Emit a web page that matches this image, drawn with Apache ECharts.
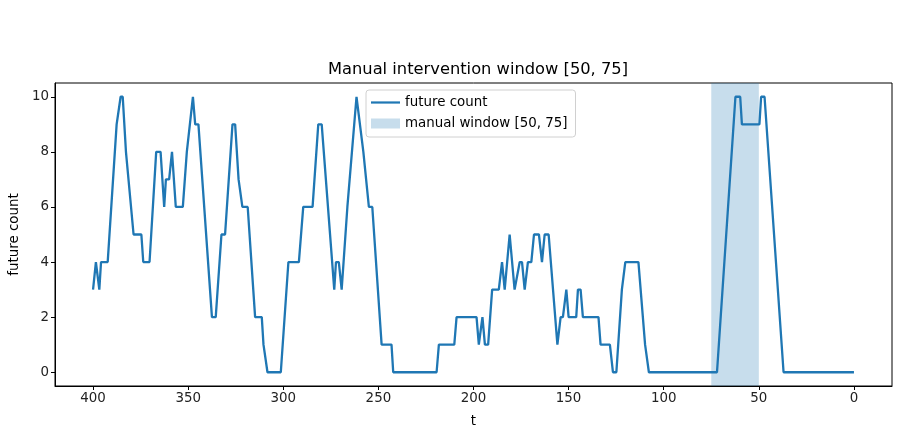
<!DOCTYPE html>
<html>
<head>
<meta charset="utf-8">
<script src="https://cdn.jsdelivr.net/npm/echarts@6/dist/echarts.min.js"></script>
<style>
  html, body { margin: 0; padding: 0; background: #fff; }
  #chart { width: 899px; height: 434px; }
</style>
</head>
<body>
<div id="chart"></div>
<script>
// time steps (counting down) and the future count read at each breakpoint
var tValues = [400, 398.5, 396.7, 395.8, 392.3, 387.6, 386.9, 385.5, 384.4, 382.7, 381.8, 378.7, 374.6, 373.6, 370.3,
	366.8, 364.5, 362.6, 361.7, 360, 358.5, 356.5, 352.8, 350.7, 349.7, 347.5, 346.3, 344.6, 337.5, 335.5,
	332.5, 330.6, 326.7, 325.3, 323.5, 322.5, 321.5, 318.7, 314.8, 311.3, 310.4, 309.6, 308.3, 301.3,
	297.3, 291.8, 289.5, 284.6, 281.6, 279.8, 273.2, 272.3, 270.8, 269.3, 266.3, 265.4, 261.5, 260.8,
	257.9, 257.1, 255, 253.2, 248.3, 243.1, 242.2, 219.4, 218.2, 210.1, 208.9, 198.4, 197.2, 195.3, 194,
	192.3, 190.2, 186.7, 185, 183.6, 181, 180.5, 178.4, 175.7, 174.5, 173.1, 171.4, 169.6, 168.2, 165.6,
	164, 162.6, 160.5, 155.9, 154.2, 153, 151.2, 150, 146, 145.1, 143.7, 142.5, 134.3, 133.2, 128.3,
	126.7, 124.9, 122, 121.1, 120.2, 113.3, 109.8, 108.9, 107.8, 72, 62.3, 59.8, 58.9, 49.7, 48.8, 47, 37, 0];
var counts = [3, 4, 3, 4, 4, 9, 9, 10, 10, 8, 8, 5, 5, 4, 4,
	8, 8, 6, 7, 7, 8, 6, 6, 8, 8, 10, 9, 9, 2, 2,
	5, 5, 9, 9, 7, 7, 6, 6, 2, 2, 1, 1, 0, 0,
	4, 4, 6, 6, 9, 9, 3, 4, 4, 3, 6, 6, 10, 10,
	8, 8, 6, 6, 1, 1, 0, 0, 1, 1, 2, 2, 1, 2, 1,
	1, 3, 3, 4, 3, 5, 5, 3, 4, 4, 3, 4, 4, 5, 5,
	4, 5, 5, 1, 2, 2, 3, 2, 2, 3, 3, 2, 2, 1, 1,
	0, 0, 3, 3, 4, 4, 1, 1, 0, 0, 10, 10, 9, 9, 10, 10, 0, 0];
var manualWindow = [50, 75];
var xTicks = [0, 50, 100, 150, 200, 250, 300, 350, 400];
var yTicks = [0, 2, 4, 6, 8, 10];

var lineColor = '#1f77b4';
var bandColor = 'rgba(31,119,180,0.25)';
var font = 'DejaVu Sans';

var seriesData = tValues.map(function (t, i) { return [t, counts[i]]; });
var windowName = 'manual window [' + manualWindow[0] + ', ' + manualWindow[1] + ']';

var chart = echarts.init(document.getElementById('chart'));
var option = {
	animation: false,
	title: {
		text: 'Manual intervention window [' + manualWindow[0] + ', ' + manualWindow[1] + ']',
		left: 473,
		textAlign: 'center',
		top: 57,
		textStyle: { fontFamily: font, fontSize: 16.3, fontWeight: 'normal', color: '#000' }
	},
	legend: {
		left: 366,
		top: 90,
		orient: 'vertical',
		itemGap: 8,
		itemWidth: 29,
		itemHeight: 10,
		padding: [6, 8, 7, 5],
		backgroundColor: 'rgba(255,255,255,0.8)',
		borderColor: '#d0d0d0',
		borderWidth: 1,
		borderRadius: 3,
		textStyle: { fontFamily: font, fontSize: 13.4, color: '#000' },
		data: [
			{ name: 'future count', icon: 'path://M0,0 L30,0 L30,2.3 L0,2.3 Z' },
			{ name: windowName, icon: 'rect' }
		]
	},
	grid: {
		left: 54, right: 7, top: 83, bottom: 48,
		show: true,
		borderColor: '#000',
		borderWidth: 1
	},
	xAxis: {
		type: 'value',
		inverse: true,
		min: -20,
		max: 420,
		name: 't',
		nameLocation: 'middle',
		nameGap: 29,
		nameTextStyle: { fontFamily: font, fontSize: 13.4, color: '#000' },
		axisLine: { onZero: false, lineStyle: { color: '#000' } },
		axisTick: { inside: false, length: 4, lineStyle: { color: '#000' }, customValues: xTicks },
		axisLabel: { fontFamily: font, fontSize: 13.4, color: '#222', margin: 6, customValues: xTicks },
		splitLine: { show: false }
	},
	yAxis: {
		type: 'value',
		min: -0.5,
		max: 10.5,
		name: 'future count',
		nameLocation: 'middle',
		nameGap: 34,
		nameTextStyle: { fontFamily: font, fontSize: 13.4, color: '#000' },
		axisLine: { show: true, onZero: false, lineStyle: { color: '#000' } },
		axisTick: { show: true, length: 4, lineStyle: { color: '#000' }, customValues: yTicks },
		axisLabel: { fontFamily: font, fontSize: 13.4, color: '#222', margin: 6, customValues: yTicks },
		splitLine: { show: false }
	},
	series: [
		{
			name: 'future count',
			type: 'line',
			data: seriesData,
			symbol: 'none',
			z: 3,
			lineStyle: { color: lineColor, width: 2.3 },
			itemStyle: { color: lineColor },
			markArea: {
				silent: true,
				itemStyle: { color: bandColor },
				data: [[{ xAxis: manualWindow[1] }, { xAxis: manualWindow[0] }]]
			}
		},
		{
			name: windowName,
			type: 'bar',
			data: [],
			itemStyle: { color: bandColor }
		}
	]
};
chart.setOption(option);
</script>
</body>
</html>
